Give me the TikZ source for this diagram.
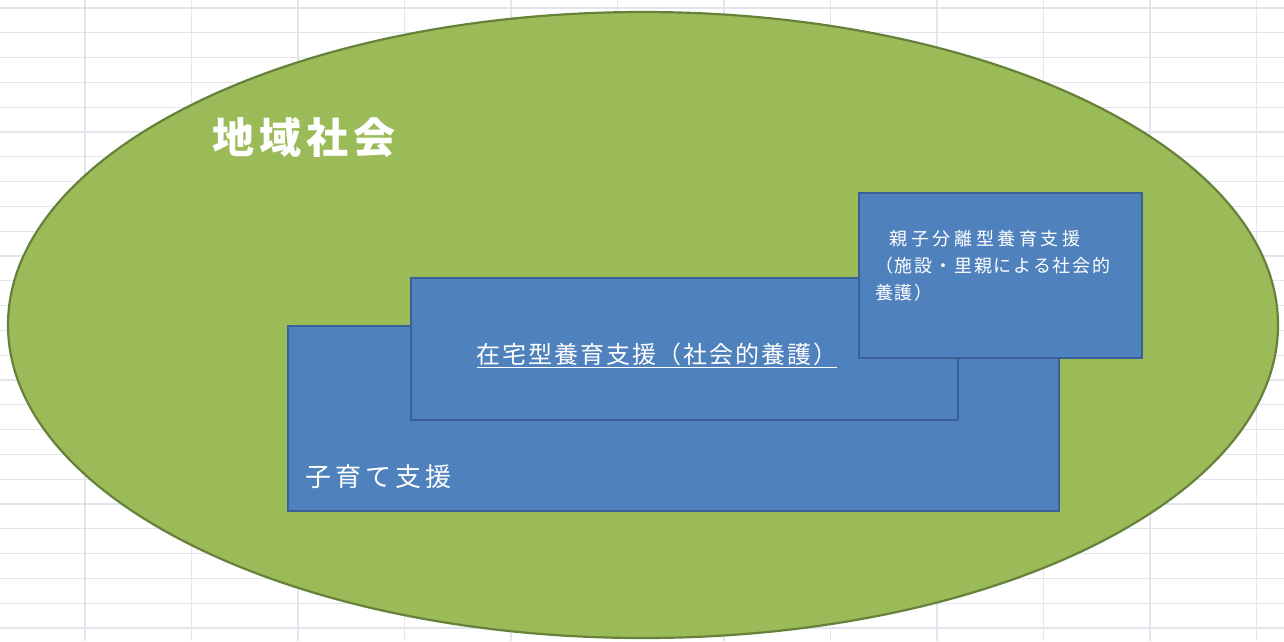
\documentclass[tikz,border=0pt]{standalone}
\usepackage{fontspec}
\usetikzlibrary{shapes.geometric}
\newfontfamily\jp{Noto Sans CJK JP}
\definecolor{boxfill}{HTML}{4F81BD}
\definecolor{boxborder}{HTML}{3A6196}
\definecolor{ellfill}{HTML}{9BBB59}
\definecolor{ellborder}{HTML}{66823A}
\definecolor{gridline}{HTML}{E4E4EC}
\begin{document}
\begin{tikzpicture}[x=1pt,y=-1pt,
  box/.style={draw=boxborder, fill=boxfill, line width=2pt, inner sep=0pt, anchor=north west},
  txt/.style={text=white, inner sep=0pt},
  cellline/.style={draw=gridline, line width=1.2pt}]
\useasboundingbox (0,0) rectangle (1284,641);
\fill[white] (0,0) rectangle (1284,641);
% spreadsheet grid
\foreach \k in {0,...,25} {\path[cellline] (0,{8+24.8*\k}) -- (1284,{8+24.8*\k});}
\foreach \k in {0,...,11} {\path[cellline] ({85+106.5*\k},0) -- ({85+106.5*\k},641);}
% community ellipse
\node[ellipse, draw=ellborder, fill=ellfill, line width=2.2pt, inner sep=0pt,
      minimum width=1270pt, minimum height=626pt] (community) at (643,325) {};
\node[txt, anchor=west, font={\jp\addfontfeatures{LetterSpace=12}\fontsize{42pt}{48pt}\selectfont\bfseries}, text=white]
  (communitylabel) at (212,138) {地域社会};
% boxes
\node[box, minimum width=771pt, minimum height=185pt] (childcare) at (287,325) {};
\node[txt, anchor=west, font={\jp\addfontfeatures{LetterSpace=16}\fontsize{26pt}{30pt}\selectfont}]
  (childcarelabel) at (305,477) {子育て支援};
\node[box, minimum width=547pt, minimum height=142pt] (homecare) at (410,277) {};
\node[txt, anchor=center, font={\jp\addfontfeatures{LetterSpace=8}\fontsize{24pt}{28pt}\selectfont}]
  (homecarelabel) at (657,355) {\underline{在宅型養育支援（社会的養護）}};
\node[box, minimum width=283pt, minimum height=165pt] (separate) at (858,192) {};
\node[txt, anchor=north west, align=left,
      font={\jp\addfontfeatures{LetterSpace=10}\fontsize{18pt}{27pt}\selectfont}]
  (separatelabel) at (875,230) {\hspace{0.8em}{\addfontfeatures{LetterSpace=20}親子分離型養育支援}\\（施設・里親による社会的\\養護）};
\end{tikzpicture}
\end{document}
